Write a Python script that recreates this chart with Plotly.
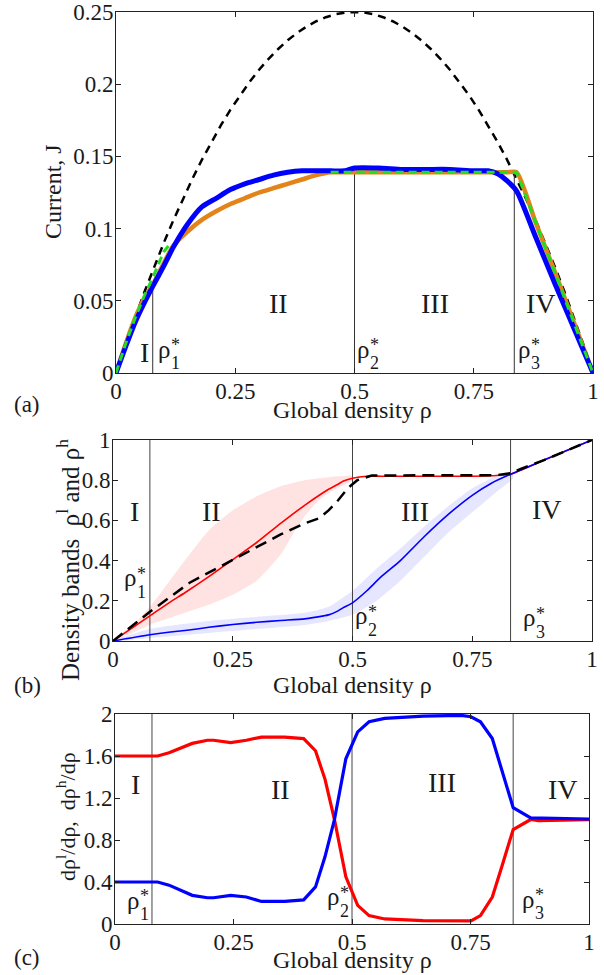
import plotly.graph_objects as go

# ---------------- data: panel (a) current ----------------
rho_par = [i / 50 for i in range(51)]
J_par = [r * (1 - r) for r in rho_par]

rho_a = [0, 0.02, 0.04, 0.06, 0.077, 0.1, 0.12, 0.15, 0.18, 0.21, 0.24, 0.27, 0.3, 0.33,
         0.36, 0.39, 0.42, 0.45, 0.48, 0.5, 0.55, 0.6, 0.65, 0.7, 0.75, 0.78, 0.8, 0.82,
         0.84, 0.88, 0.92, 0.96, 1.0]
J_blue = [0, 0.018, 0.035, 0.049, 0.060, 0.074, 0.087, 0.103, 0.115, 0.121, 0.127, 0.131,
          0.134, 0.137, 0.139, 0.140, 0.140, 0.140, 0.140, 0.142, 0.142, 0.141, 0.141, 0.141,
          0.140, 0.140, 0.138, 0.133, 0.126, 0.094, 0.062, 0.031, 0]
J_orange = [0, 0.020, 0.038, 0.052, 0.061, 0.076, 0.088, 0.098, 0.106, 0.112, 0.117, 0.121,
            0.125, 0.128, 0.131, 0.134, 0.137, 0.139, 0.139, 0.139, 0.139, 0.139, 0.139, 0.139,
            0.139, 0.139, 0.139, 0.139, 0.139, 0.104, 0.070, 0.035, 0]
rho_green = [0, 0.02, 0.04, 0.06, 0.077, 0.1, 0.11, None, 0.45, 0.5, 0.6, 0.7, 0.8, 0.84, 1.0]
J_green = [0, 0.020, 0.038, 0.054, 0.066, 0.084, 0.088, None, 0.139, 0.139, 0.139, 0.139,
           0.139, 0.139, 0]

# ---------------- data: panel (b) density bands ----------------
rho_b = [0, 0.077, 0.12, 0.15, 0.2, 0.25, 0.3, 0.35, 0.4, 0.44, 0.45, 0.47, 0.48, 0.5, 0.53,
         0.56, 0.6, 0.65, 0.7, 0.75, 0.79, 0.83, 0.9, 1.0]
rho_h = [0, 0.125, 0.195, 0.24, 0.32, 0.405, 0.49, 0.585, 0.675, 0.74, 0.755, 0.78, 0.795,
         0.81, 0.82, 0.82, 0.82, 0.82, 0.82, 0.82, 0.822, 0.83, 0.9, 1.0]
rho_l = [0, 0.031, 0.045, 0.052, 0.068, 0.082, 0.093, 0.102, 0.11, 0.125, 0.13, 0.15, 0.165,
         0.19, 0.25, 0.32, 0.40, 0.52, 0.63, 0.725, 0.785, 0.83, 0.9, 1.0]
rho_dash = [0, 0.077, 0.16, 0.25, 0.3, 0.35, 0.4, 0.43, 0.45, 0.47, 0.49, 0.51, 0.54, 0.6,
            0.7, 0.8, 0.83, 0.85, 0.9, 1.0]
dens_dash = [0, 0.145, 0.29, 0.405, 0.47, 0.53, 0.585, 0.61, 0.65, 0.70, 0.76, 0.80, 0.823,
             0.825, 0.825, 0.825, 0.835, 0.855, 0.9, 1.0]

band_h_x = [0, 0.05, 0.077, 0.1, 0.15, 0.2, 0.25, 0.3, 0.35, 0.4, 0.45, 0.5]
band_h_up = [0, 0.10, 0.17, 0.24, 0.40, 0.55, 0.65, 0.72, 0.77, 0.80, 0.815, 0.82]
band_h_lo_x = [0, 0.077, 0.15, 0.2, 0.25, 0.3, 0.35, 0.38, 0.4, 0.43, 0.46, 0.5]
band_h_lo = [0, 0.08, 0.14, 0.18, 0.23, 0.30, 0.43, 0.55, 0.62, 0.70, 0.75, 0.80]

band_l_x = [0, 0.077, 0.2, 0.3, 0.4, 0.45, 0.5, 0.55, 0.6, 0.65, 0.7, 0.75, 0.8, 0.835]
band_l_up = [0, 0.06, 0.10, 0.12, 0.14, 0.17, 0.25, 0.36, 0.46, 0.57, 0.67, 0.76, 0.82, 0.835]
band_l_lo = [0, 0.015, 0.04, 0.06, 0.08, 0.10, 0.13, 0.20, 0.30, 0.42, 0.54, 0.64, 0.74, 0.81]

# ---------------- data: panel (c) derivatives ----------------
rho_c = [0, 0.09, 0.114, 0.163, 0.195, 0.208, 0.244, 0.277, 0.309, 0.358, 0.398, 0.423,
         0.443, 0.463, 0.487, 0.512, 0.536, 0.569, 0.65, 0.73, 0.751, 0.771, 0.796, 0.816,
         0.84, 0.877, 0.893, 1.0]
d_h = [1.6, 1.6, 1.63, 1.72, 1.75, 1.75, 1.727, 1.75, 1.78, 1.78, 1.766, 1.65, 1.38, 0.995,
       0.45, 0.177, 0.08, 0.048, 0.032, 0.026, 0.03, 0.08, 0.257, 0.546, 0.9, 0.995, 0.985,
       0.995]
d_l = [0.4, 0.4, 0.37, 0.273, 0.25, 0.25, 0.273, 0.257, 0.215, 0.215, 0.23, 0.353, 0.64,
       0.995, 1.573, 1.83, 1.926, 1.958, 1.98, 1.987, 1.974, 1.926, 1.766, 1.477, 1.108, 1.011,
       1.01, 1.0]

# phase boundaries
rho_star_a = [0.077, 0.5, 0.835]
J_star_top = [0.060, 0.141, 0.139]
rho_star_b = [0.077, 0.5, 0.83]
rho_star_c = [0.078, 0.5, 0.84]

x_ticks = [0, 0.25, 0.5, 0.75, 1]
x_ticktext = ["0", "0.25", "0.5", "0.75", "1"]
ya_ticks = [0, 0.05, 0.1, 0.15, 0.2, 0.25]
ya_text = ["0", "0.05", "0.1", "0.15", "0.2", "0.25"]
yb_ticks = [0, 0.2, 0.4, 0.6, 0.8, 1]
yb_text = ["0", "0.2", "0.4", "0.6", "0.8", "1"]
yc_ticks = [0, 0.4, 0.8, 1.2, 1.6, 2]
yc_text = ["0", "0.4", "0.8", "1.2", "1.6", "2"]

FONT = "Liberation Serif, Times New Roman, Times, DejaVu Serif, serif"
TXT = "#1a1a1a"
OFF = 0                      # body margin removed by post_script below
W, H = 604, 975

fig = go.Figure()

# ---- panel (a) ----
fig.add_trace(go.Scatter(x=rho_par, y=J_par, mode="lines", xaxis="x", yaxis="y",
                         line=dict(color="black", width=2.5, dash="8px,6px")))
for i in range(3):
    fig.add_trace(go.Scatter(x=[rho_star_a[i], rho_star_a[i]], y=[0, J_star_top[i]],
                             mode="lines", xaxis="x", yaxis="y",
                             line=dict(color="#333333", width=1)))
fig.add_trace(go.Scatter(x=rho_a, y=J_orange, mode="lines", xaxis="x", yaxis="y",
                         line=dict(color="#E3841A", width=4.5, shape="spline", smoothing=0.6)))
fig.add_trace(go.Scatter(x=rho_a, y=J_blue, mode="lines", xaxis="x", yaxis="y",
                         line=dict(color="#0000FF", width=5, shape="spline", smoothing=0.6)))
fig.add_trace(go.Scatter(x=rho_green, y=J_green, mode="lines", xaxis="x", yaxis="y",
                         connectgaps=False,
                         line=dict(color="#22DD22", width=3, dash="8px,5px")))

# ---- panel (b) ----
fig.add_trace(go.Scatter(x=band_h_x + band_h_lo_x[::-1], y=band_h_up + band_h_lo[::-1],
                         mode="lines", fill="toself", xaxis="x2", yaxis="y2",
                         fillcolor="rgba(255,60,60,0.14)",
                         line=dict(width=0, shape="spline", smoothing=0.6)))
fig.add_trace(go.Scatter(x=band_l_x + band_l_x[::-1], y=band_l_up + band_l_lo[::-1],
                         mode="lines", fill="toself", xaxis="x2", yaxis="y2",
                         fillcolor="rgba(60,60,255,0.13)",
                         line=dict(width=0, shape="spline", smoothing=0.6)))
for i in range(3):
    fig.add_trace(go.Scatter(x=[rho_star_b[i], rho_star_b[i]], y=[0, 1], mode="lines",
                             xaxis="x2", yaxis="y2", line=dict(color="#444444", width=1)))
fig.add_trace(go.Scatter(x=rho_b, y=rho_h, mode="lines", xaxis="x2", yaxis="y2",
                         line=dict(color="#FF0000", width=1.6, shape="spline", smoothing=0.6)))
fig.add_trace(go.Scatter(x=rho_b, y=rho_l, mode="lines", xaxis="x2", yaxis="y2",
                         line=dict(color="#0000FF", width=1.6, shape="spline", smoothing=0.6)))
fig.add_trace(go.Scatter(x=rho_dash, y=dens_dash, mode="lines", xaxis="x2", yaxis="y2",
                         line=dict(color="black", width=2.5, dash="12px,7px")))

# ---- panel (c) ----
for i in range(3):
    fig.add_trace(go.Scatter(x=[rho_star_c[i], rho_star_c[i]], y=[0, 2], mode="lines",
                             xaxis="x3", yaxis="y3", line=dict(color="#444444", width=1)))
fig.add_trace(go.Scatter(x=rho_c, y=d_h, mode="lines", xaxis="x3", yaxis="y3",
                         line=dict(color="#FF0000", width=3.2)))
fig.add_trace(go.Scatter(x=rho_c, y=d_l, mode="lines", xaxis="x3", yaxis="y3",
                         line=dict(color="#0000FF", width=3.2)))


def px_x(p):
    return (p - OFF) / W


def px_y(p):
    return 1 - (p - OFF) / H


dom = {
    "a": ([116, 593], [12, 373]),
    "b": ([113, 592], [440, 641]),
    "c": ([115, 589], [714, 924]),
}

axis_common = dict(showline=True, linecolor="#222222", linewidth=1, mirror="ticks",
                   ticks="inside", ticklen=5, tickcolor="#222222", showgrid=False,
                   zeroline=False, ticklabeloverflow="allow",
                   tickfont=dict(family=FONT, size=23, color=TXT))

layout = dict(width=W, height=H, margin=dict(l=0, r=0, t=0, b=0, autoexpand=False),
              paper_bgcolor="white", plot_bgcolor="white", showlegend=False,
              font=dict(family=FONT, color=TXT))

for key, xa, ya, yt, ytt, yr in [("a", "xaxis", "yaxis", ya_ticks, ya_text, [0, 0.25]),
                                   ("b", "xaxis2", "yaxis2", yb_ticks, yb_text, [0, 1]),
                                   ("c", "xaxis3", "yaxis3", yc_ticks, yc_text, [0, 2])]:
    (x0, x1), (y0, y1) = dom[key]
    anchor_y = ya.replace("axis", "")
    anchor_x = xa.replace("axis", "")
    layout[xa] = dict(axis_common, domain=[px_x(x0), px_x(x1)], range=[0, 1],
                      tickvals=x_ticks, ticktext=x_ticktext, anchor=anchor_y,
                      ticklabelstandoff=-3)
    layout[ya] = dict(axis_common, domain=[px_y(y1), px_y(y0)], range=yr,
                      tickvals=yt, ticktext=ytt, anchor=anchor_x, ticklabelstandoff=-3)

fig.update_layout(**layout)

ann = []


def txt(x, y, s, size, xref, yref, **kw):
    d = dict(x=x, y=y, text=s, xref=xref, yref=yref, showarrow=False,
             xanchor="center", yanchor="middle",
             font=dict(family=FONT, size=size, color=TXT))
    d.update(kw)
    ann.append(d)


def rho_star(x, y, idx, xref, yref):
    txt(x, y, "ρ", 25, xref, yref, xanchor="left", yshift=5)
    txt(x, y, "*", 18, xref, yref, xanchor="left", xshift=13, yshift=9)
    txt(x, y, idx, 18, xref, yref, xanchor="left", xshift=13, yshift=-9)


ROM = 28
# panel (a) labels
for x, y, s in [(0.059, 0.0145, "I"), (0.341, 0.048, "II"), (0.668, 0.048, "III"),
                (0.890, 0.048, "IV")]:
    txt(x, y, s, ROM, "x", "y")
rho_star(0.084, 0.013, "1", "x", "y")
rho_star(0.500, 0.013, "2", "x", "y")
rho_star(0.838, 0.013, "3", "x", "y")

# panel (b) labels
for x, y, s in [(0.045, 0.645, "I"), (0.206, 0.645, "II"), (0.631, 0.645, "III"),
                (0.906, 0.653, "IV")]:
    txt(x, y, s, ROM, "x2", "y2")
rho_star(0.018, 0.29, "1", "x2", "y2")
rho_star(0.500, 0.10, "2", "x2", "y2")
rho_star(0.852, 0.09, "3", "x2", "y2")

# panel (c) labels
for x, y, s in [(0.043, 1.326, "I"), (0.35, 1.278, "II"), (0.689, 1.348, "III"),
                (0.946, 1.278, "IV")]:
    txt(x, y, s, ROM, "x3", "y3")
rho_star(0.022, 0.177, "1", "x3", "y3")
rho_star(0.443, 0.21, "2", "x3", "y3")
rho_star(0.854, 0.19, "3", "x3", "y3")

TT = 24
# axis titles
txt(px_x(53), px_y(192), "Current, J", TT, "paper", "paper", textangle=-90)
txt(px_x(68), px_y(560), "Density bands  ρ<sup>l</sup> and ρ<sup>h</sup>", 25,
    "paper", "paper", textangle=-90)
txt(px_x(66), px_y(817), "dρ<sup>l</sup>/dρ,  dρ<sup>h</sup>/dρ", 22, "paper", "paper",
    textangle=-90)
txt(px_x(352), px_y(410), "Global density ρ", TT, "paper", "paper")
txt(px_x(352), px_y(685), "Global density ρ", TT, "paper", "paper")
txt(px_x(352), px_y(960), "Global density ρ", TT, "paper", "paper")

# panel letters
txt(px_x(27), px_y(404), "(a)", 23, "paper", "paper")
txt(px_x(27), px_y(685), "(b)", 23, "paper", "paper")
txt(px_x(27), px_y(957), "(c)", 23, "paper", "paper")

fig.update_layout(annotations=ann)
fig.write_html("out.html", config={"displayModeBar": False},
               post_script="document.body.style.margin='0px';"
                           "document.body.style.overflow='hidden';")
